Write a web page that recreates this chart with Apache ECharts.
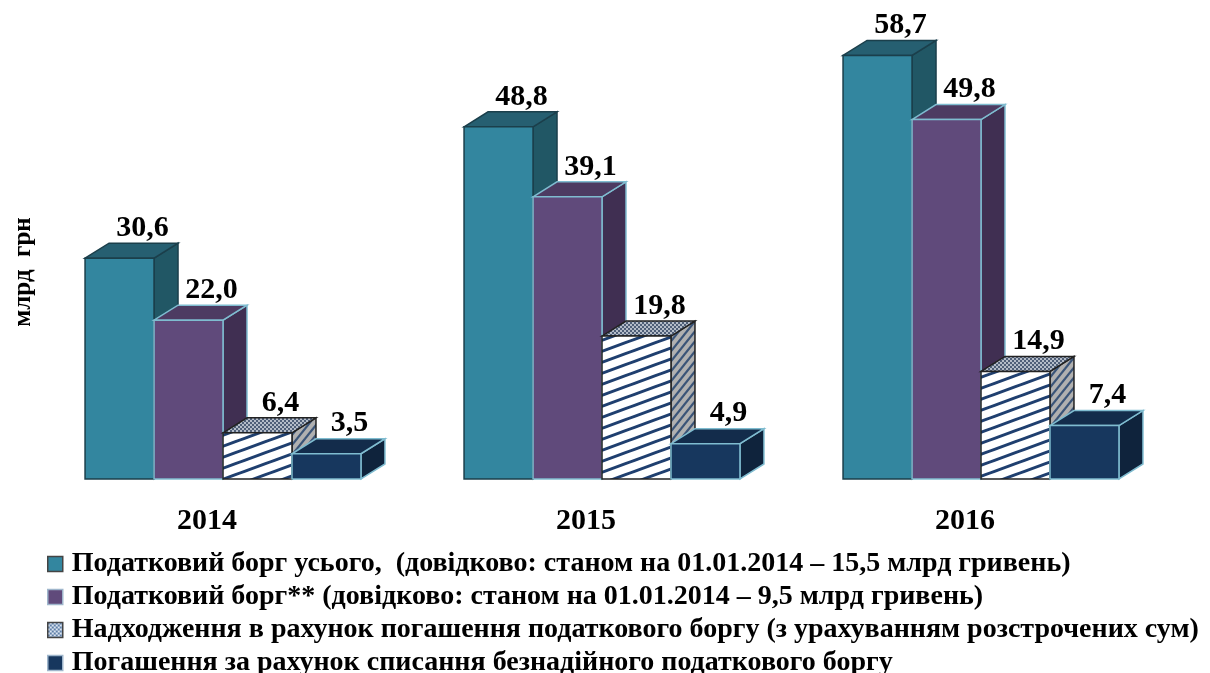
<!DOCTYPE html>
<html>
<head>
<meta charset="utf-8">
<style>
  html, body { margin: 0; padding: 0; background: #fff; }
  #main { width: 1210px; height: 673px; }
</style>
<script src="https://cdn.jsdelivr.net/npm/echarts@6/dist/echarts.min.js"></script>
</head>
<body>
<div id="main"></div>
<script>
const categories = ['2014', '2015', '2016'];
const seriesNames = [
  'Податковий борг усього,  (довідково: станом на 01.01.2014 – 15,5 млрд гривень)',
  'Податковий борг** (довідково: станом на 01.01.2014 – 9,5 млрд гривень)',
  'Надходження в рахунок погашення податкового боргу (з урахуванням розстрочених сум)',
  'Погашення за рахунок списання безнадійного податкового боргу'
];
const totalDebt = [30.6, 48.8, 58.7];
const debtStar = [22.0, 39.1, 49.8];
const receipts = [6.4, 19.8, 14.9];
const writeOff = [3.5, 4.9, 7.4];
const valueLabels = [
  ['30,6', '48,8', '58,7'],
  ['22,0', '39,1', '49,8'],
  ['6,4', '19,8', '14,9'],
  ['3,5', '4,9', '7,4']
];
const yAxisTitle = 'млрд  грн';

const FONT = '"Liberation Serif", serif';

// косі смуги для третього ряду
function stripes(w, h, bg, line, lw) {
  const c = document.createElement('canvas');
  c.width = w;
  c.height = h;
  const ctx = c.getContext('2d');
  ctx.fillStyle = bg;
  ctx.fillRect(0, 0, w, h);
  ctx.strokeStyle = line;
  ctx.lineWidth = lw;
  for (let i = -1; i <= 1; i++) {
    ctx.beginPath();
    ctx.moveTo(-2, h + i * h + h * 2 / w);
    ctx.lineTo(w + 2, i * h - h * 2 / w);
    ctx.stroke();
  }
  return { image: c, repeat: 'repeat' };
}

function dots(bg, fg) {
  const c = document.createElement('canvas');
  c.width = 4;
  c.height = 4;
  const ctx = c.getContext('2d');
  ctx.fillStyle = bg;
  ctx.fillRect(0, 0, 4, 4);
  ctx.fillStyle = fg;
  ctx.fillRect(0, 0, 2, 2);
  ctx.fillRect(2, 2, 2, 2);
  return { image: c, repeat: 'repeat' };
}

const hatchFront = stripes(30, 11, '#ffffff', '#1f3f6f', 3);
const hatchSide = stripes(8, 10, '#b0b0b0', '#3a5478', 2.2);
const hatchTop = dots('#b4bcc8', '#4f5f78');
const hatchLegend = dots('#dbe5f1', '#5f7fa8');

const palette = [
  { front: '#33869f', top: '#265f71', side: '#215765', border: '#1b3f4b' },
  { front: '#604a7b', top: '#4d3b62', side: '#402f52', border: '#7fbcd0' },
  { front: hatchFront, top: hatchTop, side: hatchSide, border: '#222222' },
  { front: '#17375e', top: '#132c4b', side: '#0f233c', border: '#7fbcd0' }
];
const legendColors = ['#33869f', '#604a7b', hatchLegend, '#17375e'];
const legendBorders = ['#444444', '#9fb6cc', '#444444', '#9fb6cc'];

const BAR_SHARE = 0.182;
const DEPTH_X = 24;
const DEPTH_Y = 15;

function makeRender(seriesIndex) {
  const look = palette[seriesIndex];
  return function (params, api) {
    const base = api.coord([api.value(0), 0]);
    const top = api.coord([api.value(0), api.value(1)]);
    const barW = api.size([1, 0])[0] * BAR_SHARE;
    const x0 = base[0] + (seriesIndex - 2) * barW;
    const x1 = x0 + barW;
    const yB = base[1];
    const yT = top[1];
    const edge = { stroke: look.border, lineWidth: 1.5 };
    return {
      type: 'group',
      children: [
        {
          type: 'polygon',
          shape: { points: [[x1, yT], [x1 + DEPTH_X, yT - DEPTH_Y], [x1 + DEPTH_X, yB - DEPTH_Y], [x1, yB]] },
          style: Object.assign({ fill: look.side }, edge)
        },
        {
          type: 'polygon',
          shape: { points: [[x0, yT], [x0 + DEPTH_X, yT - DEPTH_Y], [x1 + DEPTH_X, yT - DEPTH_Y], [x1, yT]] },
          style: Object.assign({ fill: look.top }, edge)
        },
        {
          type: 'rect',
          shape: { x: x0, y: yT, width: barW, height: yB - yT },
          style: Object.assign({ fill: look.front }, edge)
        },
        {
          type: 'text',
          style: {
            text: valueLabels[seriesIndex][params.dataIndex],
            x: (x0 + x1) / 2 + 23,
            y: yT - DEPTH_Y - 15,
            align: 'center',
            verticalAlign: 'middle',
            font: 'bold 30px ' + FONT,
            fill: '#000'
          }
        }
      ]
    };
  };
}

const allValues = [totalDebt, debtStar, receipts, writeOff];

const myChart = echarts.init(document.getElementById('main'), null, { renderer: 'canvas' });
myChart.setOption({
  animation: false,
  grid: { left: 33.5, right: 39.5, top: 46, bottom: 194 },
  legend: {
    orient: 'vertical',
    left: 47,
    top: 550,
    height: 300, // інакше четвертий рядок переходить у другу колонку
    padding: 0,
    itemWidth: 15,
    itemHeight: 15,
    itemGap: 5,
    selectedMode: false,
    textStyle: { fontFamily: FONT, fontWeight: 'bold', fontSize: 28, color: '#000', padding: [0, 0, 0, 4] },
    data: seriesNames.map((name, i) => ({
      name: name,
      icon: 'rect',
      itemStyle: { color: legendColors[i], borderColor: legendBorders[i], borderWidth: 1.5 }
    }))
  },
  xAxis: {
    type: 'category',
    data: categories,
    axisLine: { show: false },
    axisTick: { show: false },
    axisLabel: {
      margin: 27,
      padding: [0, 32, 0, 0],
      fontFamily: FONT,
      fontWeight: 'bold',
      fontSize: 30,
      color: '#000'
    }
  },
  yAxis: { type: 'value', min: 0, max: 60, show: false },
  graphic: [{
    type: 'text',
    x: 24,
    y: 272,
    rotation: Math.PI / 2,
    style: {
      text: yAxisTitle,
      align: 'center',
      verticalAlign: 'middle',
      font: 'bold 25px ' + FONT,
      fill: '#000'
    }
  }],
  series: seriesNames.map((name, i) => ({
    name: name,
    type: 'custom',
    renderItem: makeRender(i),
    encode: { x: 0, y: 1 },
    clip: false,
    itemStyle: { color: legendColors[i] },
    data: allValues[i].map((v, j) => [j, v])
  }))
});
</script>
</body>
</html>
